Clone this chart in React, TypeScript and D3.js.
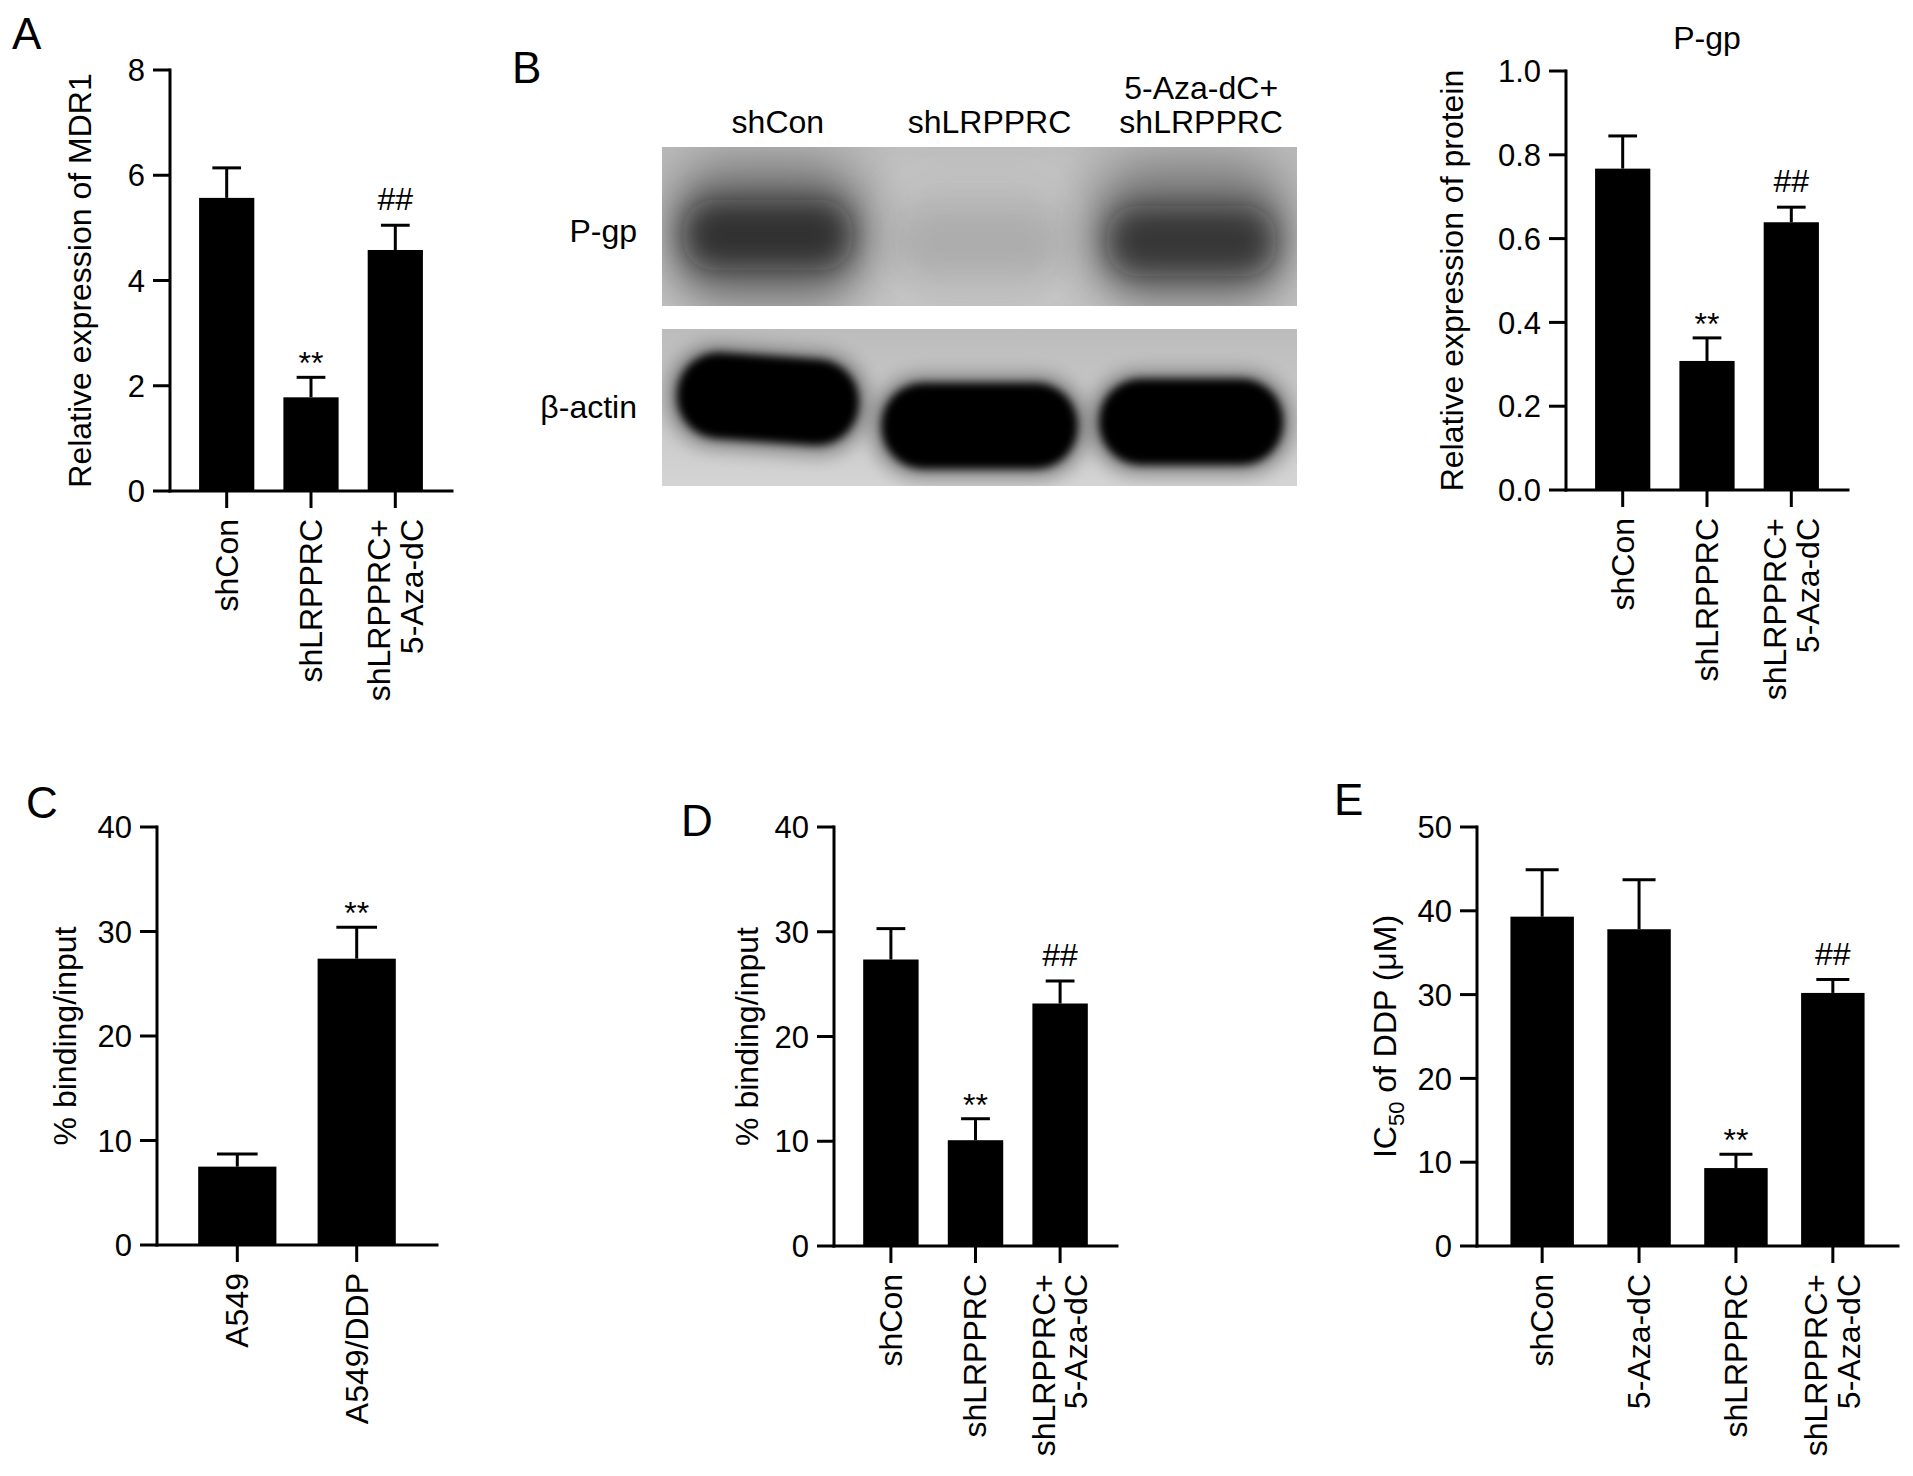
import React from 'react';
import * as d3 from 'd3';

// ---- data ----
// A: relative expression of MDR1
const groupsA = [['shCon'], ['shLRPPRC'], ['shLRPPRC+', '5-Aza-dC']];
const mdr1Mean = [5.57, 1.78, 4.58];
const mdr1Err = [0.57, 0.38, 0.47];
const mdr1Marks = ['', '**', '##'];
const mdr1Ticks = [0, 2, 4, 6, 8];

// B: western blot + P-gp quantification
const blotLanes = [['shCon'], ['shLRPPRC'], ['5-Aza-dC+', 'shLRPPRC']];
const pgpBand = [0.85, 0.12, 0.8];
const actinBand = [1, 1, 1];
const pgpMean = [0.767, 0.308, 0.639];
const pgpErr = [0.078, 0.055, 0.036];
const pgpMarks = ['', '**', '##'];
const pgpTicks = [0, 0.2, 0.4, 0.6, 0.8, 1.0];

// C: ChIP binding, parental vs resistant
const groupsC = [['A549'], ['A549/DDP']];
const bindC = [7.5, 27.4];
const bindCErr = [1.2, 3.0];
const bindCMarks = ['', '**'];

// D: ChIP binding after knockdown
const groupsD = [['shCon'], ['shLRPPRC'], ['shLRPPRC+', '5-Aza-dC']];
const bindD = [27.35, 10.1, 23.15];
const bindDErr = [2.95, 2.05, 2.15];
const bindDMarks = ['', '**', '##'];
const bindTicks = [0, 10, 20, 30, 40];

// E: IC50 of DDP
const groupsE = [['shCon'], ['5-Aza-dC'], ['shLRPPRC'], ['shLRPPRC+', '5-Aza-dC']];
const ic50 = [39.3, 37.8, 9.3, 30.2];
const ic50Err = [5.6, 5.9, 1.65, 1.6];
const ic50Marks = ['', '', '**', '##'];
const ic50Ticks = [0, 10, 20, 30, 40, 50];

const FONT = "'Liberation Sans', Arial, Helvetica, sans-serif";
const SW = 3;

type PanelProps = {
  x0: number;
  yTop: number;
  yBottom: number;
  len: number;
  groups: string[][];
  values: number[];
  errors: number[];
  marks: string[];
  ticks: number[];
  fmt: (d: number) => string;
  yLabel: React.ReactNode;
  labelOffset: number;
  title?: string;
};

const BarPanel = ({ x0, yTop, yBottom, len, groups, values, errors, marks, ticks, fmt, yLabel, labelOffset, title }: PanelProps) => {
  const y = d3.scaleLinear().domain([0, ticks[ticks.length - 1]]).range([yBottom, yTop]);
  const x = d3.scaleBand<number>()
    .domain(groups.map((_, i) => i))
    .range([x0, x0 + len])
    .padding(0.345);
  const bw = x.bandwidth();

  return (
    <g fontFamily={FONT} fill="#000">
      {title && (
        <text x={x0 + len / 2} y={49} fontSize={32} textAnchor="middle">{title}</text>
      )}

      {values.map((v, i) => {
        const cx = (x(i) as number) + bw / 2;
        const top = y(v + errors[i]);
        return (
          <g key={i}>
            <rect x={x(i)} y={y(v)} width={bw} height={yBottom - y(v)} fill="#000" />
            <line x1={cx} x2={cx} y1={y(v)} y2={top} stroke="#000" strokeWidth={SW} />
            <line x1={cx - bw * 0.26} x2={cx + bw * 0.26} y1={top} y2={top} stroke="#000" strokeWidth={SW} />
            {marks[i] && (
              <text x={cx} y={top - (marks[i] === '**' ? 3 : 15)} fontSize={32} textAnchor="middle">
                {marks[i]}
              </text>
            )}
          </g>
        );
      })}

      {/* y axis */}
      <line x1={x0} x2={x0} y1={yTop} y2={yBottom} stroke="#000" strokeWidth={SW} strokeLinecap="square" />
      {ticks.map(t => (
        <g key={t}>
          <line x1={x0 - 17} x2={x0} y1={y(t)} y2={y(t)} stroke="#000" strokeWidth={SW} />
          <text x={x0 - 25} y={y(t)} dy="0.36em" fontSize={31} textAnchor="end">{fmt(t)}</text>
        </g>
      ))}

      {/* x axis */}
      <line x1={x0} x2={x0 + len} y1={yBottom} y2={yBottom} stroke="#000" strokeWidth={SW} strokeLinecap="square" />
      {groups.map((lines, i) => {
        const cx = (x(i) as number) + bw / 2;
        return (
          <g key={i}>
            <line x1={cx} x2={cx} y1={yBottom} y2={yBottom + 17} stroke="#000" strokeWidth={SW} />
            <text
              transform={`translate(${cx},${yBottom + 28}) rotate(-90)`}
              fontSize={32}
              textAnchor="end"
            >
              {lines.map((ln, j) => (
                <tspan key={j} x={0} y={0} dy={`${0.34 + (j - (lines.length - 1) / 2) * 1.03}em`}>
                  {ln}
                </tspan>
              ))}
            </text>
          </g>
        );
      })}

      <text
        transform={`translate(${x0 - labelOffset},${(yTop + yBottom) / 2}) rotate(-90)`}
        fontSize={32}
        textAnchor="middle"
      >
        {yLabel}
      </text>
    </g>
  );
};

const Blot = () => {
  const left = 662;
  const right = 1297;
  const lane = d3.scaleBand<number>().domain(blotLanes.map((_, i) => i)).range([left, right]);
  const c = (i: number) => (lane(i) as number) + lane.bandwidth() / 2;
  const actinTop = [356, 383, 379];
  const actinWidth = [182, 196, 184];
  const actinTilt = [4, 0, 0];
  const pgpTop = [200, 208, 206];

  return (
    <g fontFamily={FONT}>
      <defs>
        <filter id="blurXL" x="-50%" y="-50%" width="200%" height="200%">
          <feGaussianBlur stdDeviation={22} />
        </filter>
        <filter id="blurL" x="-50%" y="-50%" width="200%" height="200%">
          <feGaussianBlur stdDeviation={15} />
        </filter>
        <filter id="blurM" x="-50%" y="-50%" width="200%" height="200%">
          <feGaussianBlur stdDeviation={9} />
        </filter>
        <filter id="blurS" x="-50%" y="-50%" width="200%" height="200%">
          <feGaussianBlur stdDeviation={4} />
        </filter>
        <clipPath id="clipTop"><rect x={left} y={147} width={right - left} height={159} /></clipPath>
        <clipPath id="clipBot"><rect x={left} y={329} width={right - left} height={157} /></clipPath>
        <linearGradient id="gTop" x1="0" x2="0" y1="0" y2="1">
          <stop offset="0" stopColor="#b9b9b9" />
          <stop offset="1" stopColor="#c3c3c3" />
        </linearGradient>
        <linearGradient id="gBot" x1="0" x2="0" y1="0" y2="1">
          <stop offset="0" stopColor="#bcbcbc" />
          <stop offset="1" stopColor="#d4d4d4" />
        </linearGradient>
      </defs>

      {blotLanes.map((lines, i) => (
        <text key={i} x={c(i) + 10} fontSize={32} textAnchor="middle">
          {lines.map((ln, j) => (
            <tspan key={j} x={c(i) + 10} y={133 - (lines.length - 1 - j) * 34}>{ln}</tspan>
          ))}
        </text>
      ))}

      {/* P-gp panel */}
      <g clipPath="url(#clipTop)">
        <rect x={left} y={147} width={right - left} height={159} fill="url(#gTop)" />
        <rect x={left + 225} y={150} width={185} height={160} fill="#d2d2d2" opacity={0.55} filter="url(#blurL)" />
        {pgpBand.map((v, i) => (
          <g key={i}>
            <rect x={c(i) - 100} y={160} width={200} height={150} rx={60} fill="#000" opacity={v * 0.4} filter="url(#blurXL)" />
            <rect x={c(i) - 85} y={pgpTop[i]} width={170} height={70} rx={32} fill="#111" opacity={v * 0.8} filter="url(#blurL)" />
          </g>
        ))}
      </g>

      {/* beta-actin panel */}
      <g clipPath="url(#clipBot)">
        <rect x={left} y={329} width={right - left} height={157} fill="url(#gBot)" />
        {actinBand.map((v, i) => (
          <g key={i} transform={`rotate(${actinTilt[i]},${c(i)},${actinTop[i] + 44})`}>
            <rect x={c(i) - actinWidth[i] / 2 - 10} y={actinTop[i] - 8} width={actinWidth[i] + 20} height={104} rx={50} fill="#000" opacity={v * 0.35} filter="url(#blurM)" />
            <rect x={c(i) - actinWidth[i] / 2} y={actinTop[i]} width={actinWidth[i]} height={86} rx={42} fill="#050505" opacity={v} filter="url(#blurS)" />
          </g>
        ))}
      </g>

      <text x={637} y={242} fontSize={32} textAnchor="end">P-gp</text>
      <text x={637} y={418} fontSize={32} textAnchor="end">β-actin</text>
    </g>
  );
};

const int = (d: number) => d3.format('d')(d);
const one = (d: number) => d3.format('.1f')(d);

export default function App() {
  return (
    <svg
      width={1913}
      height={1476}
      viewBox="0 0 1913 1476"
      style={{ position: 'absolute', left: 0, top: 0, background: '#fff' }}
    >
      <rect width={1913} height={1476} fill="#fff" />

      <g fontFamily={FONT} fontSize={44}>
        <text x={12} y={49}>A</text>
        <text x={512} y={83}>B</text>
        <text x={26} y={818}>C</text>
        <text x={681} y={836}>D</text>
        <text x={1334} y={815}>E</text>
      </g>

      <BarPanel
        x0={170} yTop={70} yBottom={491} len={282}
        groups={groupsA} values={mdr1Mean} errors={mdr1Err} marks={mdr1Marks}
        ticks={mdr1Ticks} fmt={int} yLabel="Relative expression of MDR1" labelOffset={79}
      />

      <Blot />

      <BarPanel
        x0={1566} yTop={71} yBottom={490} len={282}
        groups={groupsA} values={pgpMean} errors={pgpErr} marks={pgpMarks}
        ticks={pgpTicks} fmt={one} yLabel="Relative expression of protein" labelOffset={103}
        title="P-gp"
      />

      <BarPanel
        x0={157} yTop={827} yBottom={1245} len={280}
        groups={groupsC} values={bindC} errors={bindCErr} marks={bindCMarks}
        ticks={bindTicks} fmt={int} yLabel="% binding/input" labelOffset={81}
      />

      <BarPanel
        x0={834} yTop={827} yBottom={1246} len={283}
        groups={groupsD} values={bindD} errors={bindDErr} marks={bindDMarks}
        ticks={bindTicks} fmt={int} yLabel="% binding/input" labelOffset={76}
      />

      <BarPanel
        x0={1477} yTop={827} yBottom={1246} len={421}
        groups={groupsE} values={ic50} errors={ic50Err} marks={ic50Marks}
        ticks={ic50Ticks} fmt={int} labelOffset={81}
        yLabel={
          <>
            IC<tspan fontSize={22} dy={8}>50</tspan>
            <tspan dy={-8}> of DDP (μM)</tspan>
          </>
        }
      />
    </svg>
  );
}
